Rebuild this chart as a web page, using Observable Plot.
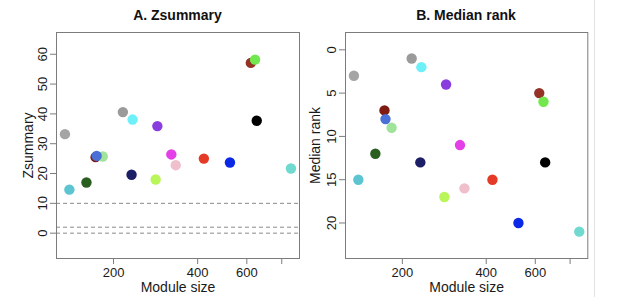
<!DOCTYPE html>
<html>
<head>
<meta charset="utf-8">
<script src="https://cdn.jsdelivr.net/npm/d3@7"></script>
<script src="https://cdn.jsdelivr.net/npm/@observablehq/plot@0.6"></script>
<style>
  html, body { margin: 0; padding: 0; background: #fff; }
  #wrap { position: relative; width: 617px; height: 302px; overflow: hidden; font-family: "Liberation Sans", Arial, sans-serif; }
  .title { position: absolute; top: 7.5px; font-weight: bold; font-size: 14px; line-height: 14px; text-align: center; color: #111; }
  .panel { position: absolute; top: 25px; }
  #sep { position: absolute; left: 594px; top: 0; width: 1px; height: 297px; background: #e2e2e2; }
</style>
</head>
<body>
<div id="wrap">
  <div class="title" style="left:56px;width:243px;">A. Zsummary</div>
  <div class="title" style="left:345px;width:242px;">B. Median rank</div>
  <div class="panel" id="pa" style="left:0px;"></div>
  <div class="panel" id="pb" style="left:289px;"></div>
  <div id="sep"></div>
</div>
<script>
// ---- data ----
const modules = ["grey60", "mediumturquoise", "darkgreen", "darkred", "lightgreen", "royalblue",
  "darkgrey", "midnightblue", "cyan", "greenyellow", "purple", "magenta", "pink", "red",
  "blue", "brown", "green", "black", "turquoise"];
const colors = ["#A5A5A5", "#5CC5D1", "#2A5F20", "#7E1A12", "#9FE49A", "#4A6FD6",
  "#9A9A9A", "#1C1F66", "#6EF0F8", "#BAF55A", "#8A3DDF", "#E340E8", "#EFBFCB", "#E53A26",
  "#0A28E6", "#953226", "#72E84E", "#000000", "#70D9D0"];
const moduleSize = [134, 139, 160, 172.5, 183, 174,
  216, 232, 234, 283, 287, 322, 334, 421,
  522, 620, 642, 651, 863];
const zsummary = [33.2, 14.6, 17.0, 25.5, 25.7, 25.9,
  40.6, 19.6, 38.1, 18.0, 35.9, 26.4, 22.8, 25.0,
  23.7, 57.1, 58.2, 37.7, 21.7];
const medianRank = [3, 15, 12, 7, 9, 8,
  1, 13, 2, 17, 4, 11, 16, 15,
  20, 5, 6, 13, 21];

const xTicks = [200, 400, 600, 800];
const xTickLabels = ["200", "400", "600", ""];
const zTicks = [0, 10, 20, 30, 40, 50, 60];
const rankTicks = [0, 5, 10, 15, 20];
const zThresholds = [10, 2, 0];

const idx = modules.map((_, i) => i);
const FONT = "Liberation Sans, Arial, sans-serif";

function panel({yDomain, reverse, yTicks, yKey, yTitle, yTitleDx, marginRight, extra}) {
  return Plot.plot({
    width: 305, height: 277,
    marginLeft: 56, marginRight, marginTop: 7, marginBottom: 44,
    x: {type: "log", domain: [125, 926], axis: null},
    y: {domain: yDomain, reverse, axis: null},
    color: {type: "identity"},
    style: {fontFamily: FONT, background: "transparent"},
    marks: [
      ...extra,
      Plot.frame({stroke: "#7c7c7c"}),
      Plot.axisX({ticks: xTicks, anchor: "bottom", tickSize: 6, tickPadding: 3,
        tickFormat: d => xTickLabels[xTicks.indexOf(d)], label: null,
        stroke: "#7c7c7c", fill: "#1a1a1a", fontSize: 13}),
      Plot.axisY({ticks: yTicks, anchor: "left", tickSize: 6, tickFormat: () => "",
        label: null, stroke: "#7c7c7c"}),
      Plot.text(yTicks, {y: d => d, text: d => String(d), frameAnchor: "left",
        rotate: -90, textAnchor: "middle", lineAnchor: "bottom", dx: -9.5,
        fontSize: 13, fill: "#1a1a1a"}),
      Plot.text([yTitle], {text: d => d, frameAnchor: "left", rotate: -90,
        textAnchor: "middle", lineAnchor: "bottom", dx: yTitleDx,
        fontSize: 14, fill: "#1a1a1a"}),
      Plot.text(["Module size"], {text: d => d, frameAnchor: "bottom",
        textAnchor: "middle", lineAnchor: "bottom", dy: 33.7,
        fontSize: 14, fill: "#1a1a1a"}),
      Plot.dot(idx, {x: i => moduleSize[i], y: i => yKey[i], r: 5.2,
        fill: i => colors[i], stroke: "none"})
    ]
  });
}

document.getElementById("pa").append(panel({
  yDomain: [-8.5, 67.3], reverse: false, yTicks: zTicks, yKey: zsummary,
  yTitle: "Zsummary", yTitleDx: -23.7, marginRight: 6,
  extra: [Plot.ruleY(zThresholds, {stroke: "#8a8a8a", strokeDasharray: "4,3", strokeWidth: 1})]
}));
document.getElementById("pb").append(panel({
  yDomain: [-2, 24.1], reverse: true, yTicks: rankTicks, yKey: medianRank,
  yTitle: "Median rank", yTitleDx: -25.5, marginRight: 6.7,
  extra: []
}));
</script>
</body>
</html>
